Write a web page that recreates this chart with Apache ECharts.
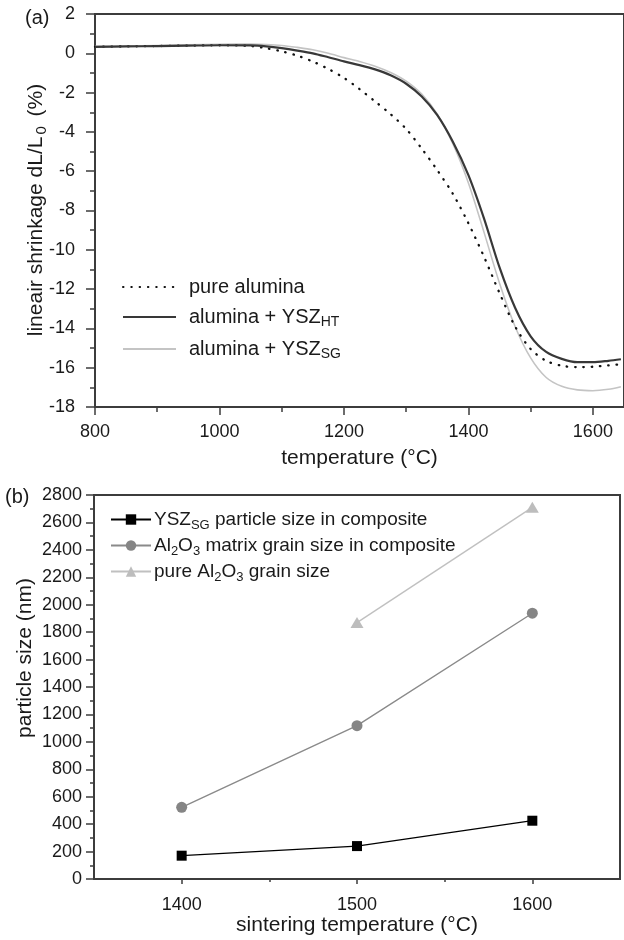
<!DOCTYPE html>
<html>
<head>
<meta charset="utf-8">
<script src="https://cdn.jsdelivr.net/npm/echarts@6/dist/echarts.min.js"></script>
<style>
  html, body { margin: 0; padding: 0; background: #fff; }
  #chart { width: 624px; height: 940px; }
</style>
</head>
<body>
<div id="chart"></div>
<script>
// ---------- Panel (a): linear shrinkage ----------
const shrinkTemps = [800, 850, 900, 950, 1000, 1050, 1075, 1100, 1125, 1150, 1175, 1200, 1225, 1250, 1275, 1300, 1325, 1350, 1375, 1400, 1425, 1450, 1475, 1500, 1525, 1550, 1575, 1600, 1625, 1645];
const pureAlumina = [0.33, 0.35, 0.37, 0.39, 0.41, 0.37, 0.26, 0.10, -0.12, -0.42, -0.8, -1.25, -1.82, -2.45, -3.1, -3.85, -4.85, -5.95, -7.15, -8.65, -10.35, -12.2, -13.9, -15.05, -15.65, -15.9, -15.97, -15.95, -15.88, -15.82];
const aluminaYszHT = [0.33, 0.35, 0.37, 0.39, 0.41, 0.40, 0.35, 0.26, 0.14, 0.0, -0.2, -0.41, -0.6, -0.82, -1.12, -1.55, -2.2, -3.15, -4.5, -6.2, -8.4, -10.9, -12.95, -14.4, -15.2, -15.55, -15.72, -15.72, -15.65, -15.57];
const aluminaYszSG = [0.35, 0.37, 0.40, 0.43, 0.46, 0.47, 0.45, 0.40, 0.30, 0.18, 0.0, -0.22, -0.42, -0.66, -0.98, -1.42, -2.08, -3.1, -4.6, -6.6, -9.1, -11.7, -13.9, -15.5, -16.5, -16.95, -17.13, -17.17, -17.1, -16.97];
const shrinkXMajor = [800, 1000, 1200, 1400, 1600];
const shrinkXMinor = [900, 1100, 1300, 1500];

// ---------- Panel (b): particle size ----------
const sinterTemps = [1400, 1500, 1600];
const yszSGSize = [170, 240, 425];
const matrixGrainSize = [523, 1118, 1938];
const pureAl2O3GrainSize = [null, 1870, 2710];
const sinterXMajor = [1400, 1500, 1600];
const sinterXMinor = [1450, 1550];

const FONT = "'Liberation Sans', Arial, Helvetica, sans-serif";
const TXT = '#1a1a1a';
const AXC = '#3c3c3c';

function pairs(xs, ys) { return xs.map((x, i) => [x, ys[i]]); }
const plain = v => String(v);

const legendNames = {
  'pure alumina': '{n|pure alumina}',
  'alumina + YSZ HT': '{n|alumina + YSZ}{s|HT}',
  'alumina + YSZ SG': '{n|alumina + YSZ}{s|SG}',
  'YSZ SG particle size in composite': '{n|YSZ}{s|SG}{n| particle size in composite}',
  'Al2O3 matrix grain size in composite': '{n|Al}{s|2}{n|O}{s|3}{n| matrix grain size in composite}',
  'pure Al2O3 grain size': '{n|pure Al}{s|2}{n|O}{s|3}{n| grain size}'
};

const chart = echarts.init(document.getElementById('chart'), null, { renderer: 'canvas' });

const axisLineStyle = { show: true, onZero: false, lineStyle: { color: AXC, width: 2 } };

const option = {
  animation: false,
  backgroundColor: '#fff',
  textStyle: { fontFamily: FONT, color: TXT },
  grid: [
    { left: 95, top: 14, width: 531, height: 393, show: true, borderColor: AXC, borderWidth: 2, backgroundColor: 'transparent' },
    { left: 94, top: 495, width: 526, height: 384, show: true, borderColor: AXC, borderWidth: 2, backgroundColor: 'transparent' }
  ],
  xAxis: [
    {
      type: 'value', gridIndex: 0, min: 800, max: 1650,
      axisLine: axisLineStyle,
      axisTick: { show: true, length: 8, lineStyle: { color: AXC, width: 1.5 }, customValues: shrinkXMajor },
      axisLabel: { customValues: shrinkXMajor, formatter: plain, fontSize: 18, color: TXT, margin: 16, fontFamily: FONT },
      splitLine: { show: false },
      name: 'temperature (°C)', nameLocation: 'middle', nameGap: 41,
      nameTextStyle: { fontSize: 21, color: TXT, fontFamily: FONT }
    },
    {
      type: 'value', gridIndex: 0, min: 800, max: 1650, position: 'bottom',
      axisLine: { show: false, onZero: false },
      axisTick: { show: true, length: 5, lineStyle: { color: AXC, width: 1.5 }, customValues: shrinkXMinor },
      axisLabel: { show: false },
      splitLine: { show: false }
    },
    {
      type: 'value', gridIndex: 1, min: 1350, max: 1650,
      axisLine: axisLineStyle,
      axisTick: { show: true, length: 5, lineStyle: { color: AXC, width: 1.5 }, customValues: sinterXMajor },
      axisLabel: { customValues: sinterXMajor, formatter: plain, fontSize: 18, color: TXT, margin: 17, fontFamily: FONT },
      splitLine: { show: false },
      name: 'sintering temperature (°C)', nameLocation: 'middle', nameGap: 34,
      nameTextStyle: { fontSize: 21, color: TXT, fontFamily: FONT }
    },
    {
      type: 'value', gridIndex: 1, min: 1350, max: 1650, position: 'bottom',
      axisLine: { show: false, onZero: false },
      axisTick: { show: true, length: 3, lineStyle: { color: AXC, width: 1.5 }, customValues: sinterXMinor },
      axisLabel: { show: false },
      splitLine: { show: false }
    }
  ],
  yAxis: [
    {
      type: 'value', gridIndex: 0, min: -18, max: 2, interval: 2,
      axisLine: axisLineStyle,
      axisTick: { show: true, length: 9, lineStyle: { color: AXC, width: 1.5 } },
      minorTick: { show: true, splitNumber: 2, length: 5, lineStyle: { color: AXC, width: 1.5 } },
      axisLabel: { formatter: plain, fontSize: 18, color: TXT, margin: 20, fontFamily: FONT },
      splitLine: { show: false }, minorSplitLine: { show: false }
    },
    {
      type: 'value', gridIndex: 1, min: 0, max: 2800, interval: 200,
      axisLine: axisLineStyle,
      axisTick: { show: true, length: 8, lineStyle: { color: AXC, width: 1.5 } },
      minorTick: { show: true, splitNumber: 2, length: 4, lineStyle: { color: AXC, width: 1.5 } },
      axisLabel: { formatter: plain, fontSize: 18, color: TXT, margin: 12, fontFamily: FONT },
      splitLine: { show: false }, minorSplitLine: { show: false }
    }
  ],
  legend: [
    {
      data: ['pure alumina', 'alumina + YSZ HT', 'alumina + YSZ SG'],
      orient: 'vertical', left: 117, top: 272,
      itemWidth: 53, itemHeight: 14, itemGap: 10,
      selectedMode: false,
      itemStyle: { opacity: 0 },
      formatter: name => legendNames[name],
      textStyle: {
        padding: [0, 0, 0, 8],
        rich: {
          n: { fontSize: 20, lineHeight: 24, color: TXT, fontFamily: FONT },
          s: { fontSize: 14, lineHeight: 14, verticalAlign: 'bottom', color: TXT, fontFamily: FONT }
        }
      }
    },
    {
      data: ['YSZ SG particle size in composite', 'Al2O3 matrix grain size in composite', 'pure Al2O3 grain size'],
      orient: 'vertical', left: 105, top: 505,
      itemWidth: 40, itemHeight: 13, itemGap: 4.5,
      selectedMode: false,
      formatter: name => legendNames[name],
      textStyle: {
        padding: [0, 0, 0, -2],
        rich: {
          n: { fontSize: 19, lineHeight: 24, color: TXT, fontFamily: FONT },
          s: { fontSize: 13, lineHeight: 13, verticalAlign: 'bottom', color: TXT, fontFamily: FONT }
        }
      }
    }
  ],
  graphic: [
    { type: 'text', left: 25, top: 8, style: { text: '(a)', font: '20px ' + FONT, fill: TXT } },
    { type: 'text', left: 5, top: 487, style: { text: '(b)', font: '20px ' + FONT, fill: TXT } },
    {
      type: 'text', x: 36, y: 210, rotation: Math.PI / 2,
      style: {
        text: '{n|lineair shrinkage dL/L}{s|0}{n| (%)}',
        align: 'center', verticalAlign: 'middle',
        rich: {
          n: { fontSize: 21, lineHeight: 26, fill: TXT, fontFamily: FONT },
          s: { fontSize: 15, lineHeight: 15, verticalAlign: 'bottom', fill: TXT, fontFamily: FONT, padding: [0, 4, 0, 2] }
        }
      }
    },
    {
      type: 'text', x: 25, y: 658, rotation: Math.PI / 2,
      style: {
        text: '{n|particle size (nm)}',
        align: 'center', verticalAlign: 'middle',
        rich: { n: { fontSize: 21, lineHeight: 26, fill: TXT, fontFamily: FONT } }
      }
    }
  ],
  series: [
    {
      name: 'alumina + YSZ SG', type: 'line', xAxisIndex: 0, yAxisIndex: 0,
      data: pairs(shrinkTemps, aluminaYszSG), symbol: 'none', showSymbol: false, smooth: 0.3,
      lineStyle: { color: '#c4c4c4', width: 1.6 }, itemStyle: { color: '#c4c4c4' }, z: 2
    },
    {
      name: 'pure alumina', type: 'line', xAxisIndex: 0, yAxisIndex: 0,
      data: pairs(shrinkTemps, pureAlumina), symbol: 'none', showSymbol: false, smooth: 0.3,
      lineStyle: { color: '#111', width: 2.3, type: [0.5, 7.8], cap: 'round' }, itemStyle: { color: '#111' }, z: 3
    },
    {
      name: 'alumina + YSZ HT', type: 'line', xAxisIndex: 0, yAxisIndex: 0,
      data: pairs(shrinkTemps, aluminaYszHT), symbol: 'none', showSymbol: false, smooth: 0.3,
      lineStyle: { color: '#383838', width: 2.2 }, itemStyle: { color: '#383838' }, z: 4
    },
    {
      name: 'pure Al2O3 grain size', type: 'line', xAxisIndex: 2, yAxisIndex: 1,
      data: pairs(sinterTemps, pureAl2O3GrainSize), symbol: 'triangle', symbolSize: [13, 11],
      lineStyle: { color: '#c0c0c0', width: 1.4 }, itemStyle: { color: '#bdbdbd' }
    },
    {
      name: 'Al2O3 matrix grain size in composite', type: 'line', xAxisIndex: 2, yAxisIndex: 1,
      data: pairs(sinterTemps, matrixGrainSize), symbol: 'circle', symbolSize: 11,
      lineStyle: { color: '#8a8a8a', width: 1.4 }, itemStyle: { color: '#858585' }
    },
    {
      name: 'YSZ SG particle size in composite', type: 'line', xAxisIndex: 2, yAxisIndex: 1,
      data: pairs(sinterTemps, yszSGSize), symbol: 'rect', symbolSize: 10,
      lineStyle: { color: '#000', width: 1.3 }, itemStyle: { color: '#000' }
    }
  ]
};

chart.setOption(option);
</script>
</body>
</html>
